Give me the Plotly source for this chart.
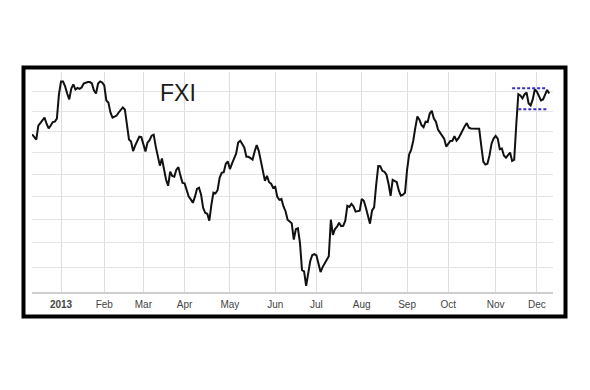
import numpy as np
import pandas as pd
import plotly.graph_objects as go

# ---- data -------------------------------------------------------------
holidays = ["2012-12-25", "2013-01-01", "2013-01-21", "2013-02-18", "2013-03-29",
            "2013-05-27", "2013-07-04", "2013-09-02", "2013-11-28"]
start_date = "2012-12-11"
end_date = "2013-12-10"

close = [
    38.88, 38.77, 38.63, 39.31, 39.43, 39.53, 39.70, 39.40, 39.17, 39.31, 39.48, 39.50, 39.65, 40.85,
    41.51, 41.51, 41.26, 40.90, 40.60, 41.15, 41.36, 41.10, 41.18, 41.13, 41.20, 41.41, 41.46, 41.48,
    41.48, 41.41, 41.05, 40.90, 41.41, 41.51, 41.46, 41.31, 40.55, 40.45, 39.95, 39.70, 39.75, 39.80,
    39.95, 40.10, 40.20, 40.10, 39.26, 38.64, 38.54, 38.09, 38.35, 38.54, 38.77, 38.75, 38.35, 38.07,
    38.49, 38.61, 38.82, 38.87, 38.30, 37.88, 37.41, 37.74, 37.22, 36.76, 36.49, 37.13, 36.94, 36.90,
    37.22, 37.34, 36.94, 36.62, 36.60, 36.32, 36.01, 35.88, 35.73, 35.99, 36.35, 36.40, 36.09, 35.51,
    35.29, 35.25, 34.95, 35.64, 36.18, 36.15, 36.29, 36.85, 37.08, 37.11, 37.50, 37.60, 37.25, 37.50,
    37.78, 37.97, 38.49, 38.58, 38.42, 38.25, 37.82, 37.82, 37.76, 37.69, 38.07, 38.37, 38.10, 37.62,
    37.13, 36.71, 36.94, 36.65, 36.58, 36.40, 36.45, 35.99, 35.86, 35.90, 35.57, 35.36, 34.99, 34.90,
    34.84, 34.14, 34.58, 34.62, 34.00, 32.88, 32.83, 32.24, 32.72, 33.25, 33.50, 33.53, 33.48, 33.17,
    32.80, 33.00, 33.15, 33.28, 33.45, 34.99, 34.34, 34.59, 34.69, 34.86, 34.71, 34.73, 34.95, 35.60,
    35.55, 35.68, 35.57, 35.34, 35.36, 35.38, 35.90, 35.82, 35.51, 35.12, 34.82, 35.40, 35.53, 36.53,
    37.39, 37.38, 37.17, 37.13, 36.99, 36.58, 36.04, 36.76, 36.69, 36.65, 36.27, 36.05, 36.09, 36.18,
    37.22, 37.93, 38.16, 38.58, 39.21, 39.75, 39.60, 39.33, 39.23, 39.50, 39.48, 39.90, 40.03, 39.65,
    39.50, 39.12, 38.97, 38.80, 38.68, 38.30, 38.44, 38.57, 38.58, 38.80, 38.58, 38.70, 38.89, 39.11,
    39.28, 39.43, 39.21, 39.17, 39.16, 39.16, 39.16, 39.16, 38.35, 37.60, 37.46, 37.50, 37.88, 38.44,
    38.68, 38.81, 38.68, 38.18, 38.21, 37.88, 37.78, 37.88, 38.02, 37.63, 37.69, 39.35, 40.86, 40.80,
    40.65, 40.85, 40.95, 40.40, 40.30, 40.60, 41.10, 41.00, 40.75, 40.55, 40.60, 40.80, 41.08, 40.90,
]

resistance_level = 41.17
resistance_span = ["2013-11-13", "2013-12-09"]
support_level = 40.11
support_span = ["2013-11-18", "2013-12-09"]

month_labels = ["<b>2013</b>", "Feb", "Mar", "Apr", "May", "Jun", "Jul", "Aug",
                "Sep", "Oct", "Nov", "Dec"]
grid_levels = [32, 33, 34, 35, 36, 37, 38, 39, 40, 41]
y_range = [32, 42]
title_text = "FXI"

# ---- build axis from trading days ------------------------------------
dates = pd.bdate_range(start_date, end_date, freq="C", holidays=holidays)
dates = dates[:len(close)]
origin = int(np.searchsorted(dates, pd.Timestamp("2013-01-02")))
xs = np.arange(len(dates)) - origin
pos = pd.Series(xs, index=dates)

in_2013 = pos[pos.index.year == 2013]
first_days = in_2013.groupby(in_2013.index.month).min()
tickvals = list(first_days.values)


def idx(d):
    return float(pos[pd.Timestamp(d)])


fig = go.Figure()
fig.add_trace(go.Scatter(x=xs, y=close, mode="lines",
                         line=dict(color="#111111", width=2.0), hoverinfo="skip"))
fig.add_trace(go.Scatter(x=[idx(resistance_span[0]), idx(resistance_span[1])],
                         y=[resistance_level, resistance_level], mode="lines",
                         line=dict(color="#3a2fc0", width=2, dash="3px,2px")))
fig.add_trace(go.Scatter(x=[idx(support_span[0]), idx(support_span[1])],
                         y=[support_level, support_level], mode="lines",
                         line=dict(color="#3a2fc0", width=2, dash="3px,2px")))

# plot area geometry (pixels)
W, H = 590, 390
L, R, T, B = 32, 553, 72, 292
px_per_day = 2.06
x_left = 0 - (61 - L) / px_per_day
x_right = x_left + (R - L) / px_per_day


def paper_x(p):
    return (p - L) / (R - L)


def paper_y(p):
    return (B - p) / (B - T)


fig.add_shape(type="rect", xref="paper", yref="paper",
              x0=paper_x(23.5), x1=paper_x(565.5), y0=paper_y(316.5), y1=paper_y(67.5),
              line=dict(color="#000000", width=4), fillcolor="rgba(0,0,0,0)", layer="above")

fig.add_annotation(text=title_text, xref="paper", yref="paper",
                   x=paper_x(177.5), y=paper_y(93), xanchor="center", yanchor="middle",
                   showarrow=False,
                   font=dict(family="Liberation Sans, Arial, sans-serif", size=23, color="#1a1a1a"))

fig.update_layout(
    width=W, height=H,
    margin=dict(l=L, r=W - R, t=T, b=H - B),
    paper_bgcolor="white", plot_bgcolor="white",
    showlegend=False,
    xaxis=dict(range=[x_left, x_right], tickmode="array", tickvals=tickvals,
               ticktext=month_labels, showgrid=True, gridcolor="#dedede", gridwidth=1,
               zeroline=False, showline=True, linecolor="#cfcfcf", linewidth=2,
               ticks="", tickfont=dict(family="Liberation Sans, Arial, sans-serif",
                                       size=10, color="#444444"),
               ticklabelstandoff=2),
    yaxis=dict(type="log", range=[np.log10(y_range[0]), np.log10(y_range[1])],
               tickmode="array", tickvals=grid_levels, showticklabels=False,
               showgrid=True, gridcolor="#e4e4e4", gridwidth=1, zeroline=False,
               showline=False, ticks=""),
)

fig.write_html("out.html")
